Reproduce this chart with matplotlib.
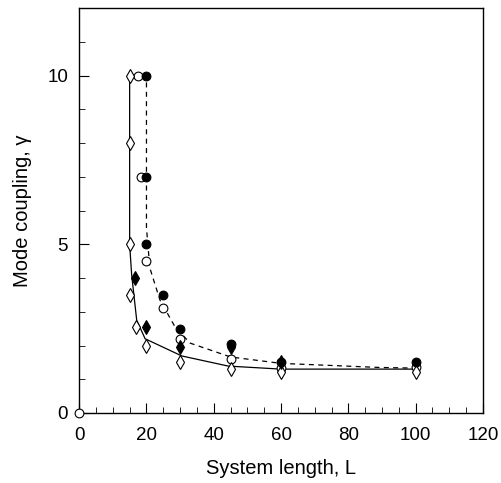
import matplotlib
matplotlib.use("Agg")
import matplotlib.pyplot as plt
from matplotlib.ticker import MultipleLocator

plt.rcParams['font.family'] = ['Liberation Sans', 'DejaVu Sans']

# open diamonds
od_x = [15, 15, 15, 15, 17, 20, 30, 45, 60, 100]
od_y = [10, 8, 5, 3.5, 2.55, 2.0, 1.5, 1.3, 1.2, 1.2]
# filled diamonds
fd_x = [16.5, 20, 30, 45, 60]
fd_y = [4.0, 2.55, 1.95, 1.95, 1.5]
# open circles
oc_x = [0, 17.5, 18.5, 20, 25, 30, 45, 60, 100]
oc_y = [0, 10, 7, 4.5, 3.1, 2.2, 1.6, 1.33, 1.35]
# filled circles
fc_x = [20, 20, 20, 25, 30, 45, 60, 100]
fc_y = [10, 7, 5, 3.5, 2.5, 2.05, 1.5, 1.5]

# fitted curves
solid_x = [15, 15, 15.6, 17.1, 19.6, 30.5, 44.3, 60, 100]
solid_y = [10, 5, 4.1, 2.75, 2.2, 1.69, 1.39, 1.3, 1.3]
dash_x = [20, 20, 21, 24, 28.5, 33, 45, 60, 89, 100]
dash_y = [9.8, 5.5, 4.3, 3.35, 2.55, 2.07, 1.66, 1.47, 1.35, 1.33]

fig = plt.figure(figsize=(5.01, 4.83), dpi=100)
ax = fig.add_axes([0.158, 0.145, 0.806, 0.838])

ax.plot(solid_x, solid_y, color='black', lw=0.9, zorder=1)
ax.plot(dash_x, dash_y, color='black', lw=0.9, ls=(0, (4, 3.5)), zorder=1)

mk = dict(ls='none', mec='black', mew=0.8, zorder=3, clip_on=False)
ax.plot(oc_x, oc_y, marker='o', ms=6.3, mfc='white', **mk)
ax.plot(od_x, od_y, marker='d', ms=7.2, mfc='white', **mk)
ax.plot(fc_x, fc_y, marker='o', ms=6.3, mfc='black', **mk)
ax.plot(fd_x, fd_y, marker='d', ms=7.2, mfc='black', **mk)

ax.set_xlim(0, 120)
ax.set_ylim(0, 12)
ax.xaxis.set_major_locator(MultipleLocator(20))
ax.xaxis.set_minor_locator(MultipleLocator(5))
ax.yaxis.set_minor_locator(MultipleLocator(1))
ax.set_yticks([0, 5, 10])
ax.tick_params(which='both', direction='in', top=False, right=False, labelsize=13.5)
ax.tick_params(axis='x', pad=10)
ax.tick_params(axis='y', pad=8)
ax.tick_params(which='major', length=7)
ax.tick_params(which='minor', length=4)

for s in ax.spines.values():
    s.set_linewidth(1.0)

ax.set_xlabel('System length, L', fontsize=14.5, labelpad=11)
ax.set_ylabel('Mode coupling, \u03b3', fontsize=14.5, labelpad=11)

fig.savefig('out.png', dpi=100)
